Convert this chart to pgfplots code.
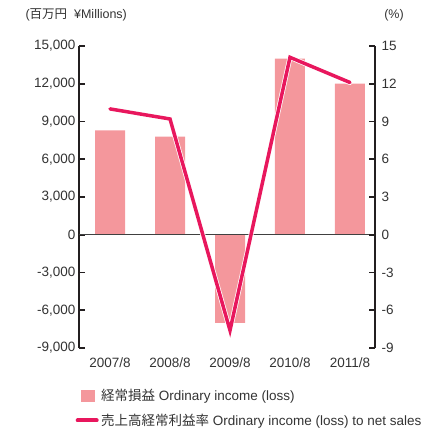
\documentclass[border=0pt]{standalone}
\usepackage{fontspec}
\setmainfont{Liberation Sans}
\newfontfamily\jp{Noto Sans CJK JP}
\usepackage{pgfplots}
\pgfplotsset{compat=1.18}

\definecolor{barpink}{HTML}{F4979C}
\definecolor{linepink}{HTML}{E8175D}
\definecolor{axisdark}{HTML}{231F20}
\definecolor{zeroline}{HTML}{404040}
\definecolor{txt}{HTML}{333333}

\pgfplotsset{
  common/.style={
    scale only axis, width=296bp, height=302bp,
    xmin=-0.517, xmax=4.417,
    axis line style={axisdark, line width=1.6pt},
    major tick style={axisdark, line width=1.6pt},
    major tick length=6bp,
    tick align=inside,
    ticklabel style={font=\fontsize{13.5bp}{15bp}\selectfont, text=txt},
    scaled ticks=false,
    /pgf/number format/assume math mode=true,
    /pgf/number format/fixed,
    clip=false,
  }
}

\begin{document}
\begin{tikzpicture}
\path (-79bp,-86bp) rectangle (349bp,348bp);

% bars, left axis (million yen)
\begin{axis}[common,
  axis y line*=left, axis x line*=bottom,
  x axis line style={draw=none},
  xtick style={draw=none},
  ymin=-9000, ymax=15000, ytick={-9000,-6000,...,15000},
  /pgf/number format/1000 sep={,},
  xtick={0,...,4},
  xticklabels={2007/8,2008/8,2009/8,2010/8,2011/8},
  ybar, bar width=30bp,
]
\addplot[fill=barpink, draw=none] coordinates {(0,8300) (1,7800) (2,-7000) (3,14000) (4,12000)};
\draw[line width=1.2pt, zeroline] (axis cs:-0.517,0) -- (axis cs:4.417,0);
\node[anchor=west, font=\fontsize{12.5bp}{14bp}\selectfont, text=txt]
  at (rel axis cs:0,1) [xshift=-57bp, yshift=31bp] {({\jp 百万円}\ \ ¥Millions)};
\end{axis}

% ratio line, right axis (%)
\begin{axis}[common,
  axis y line*=right, axis x line=none,
  ymin=-9, ymax=15, ytick={-9,-6,...,15},
  yticklabel style={xshift=3bp},
  legend style={at={(0,0)}, anchor=north west, xshift=-4bp, yshift=-39bp,
    draw=none, fill=none, inner sep=0pt, row sep=8bp,
    font=\fontsize{13.5bp}{15bp}\selectfont, text=txt},
  legend cell align=left,
]
\addlegendimage{legend image code/.code={\fill[barpink] (1bp,-5.5bp) rectangle (14bp,5.5bp);}}
\addlegendentry{{\jp 経常損益} Ordinary income (loss)}
\addplot[linepink, line width=3.5pt, line join=miter, line cap=round,
  preaction={draw=white, line width=5pt},
  legend image code/.code={\draw[linepink, line width=4bp] (-3bp,0) -- (16bp,0);}]
  coordinates {(0,10.0) (1,9.2) (2,-7.6) (3,14.1) (4,12.1)};
\addlegendentry{{\jp 売上高経常利益率} Ordinary income (loss) to net sales}
\node[font=\fontsize{12.5bp}{14bp}\selectfont, text=txt]
  at (rel axis cs:1,1) [xshift=19bp, yshift=31bp] {(\%)};
\end{axis}
\end{tikzpicture}
\end{document}
